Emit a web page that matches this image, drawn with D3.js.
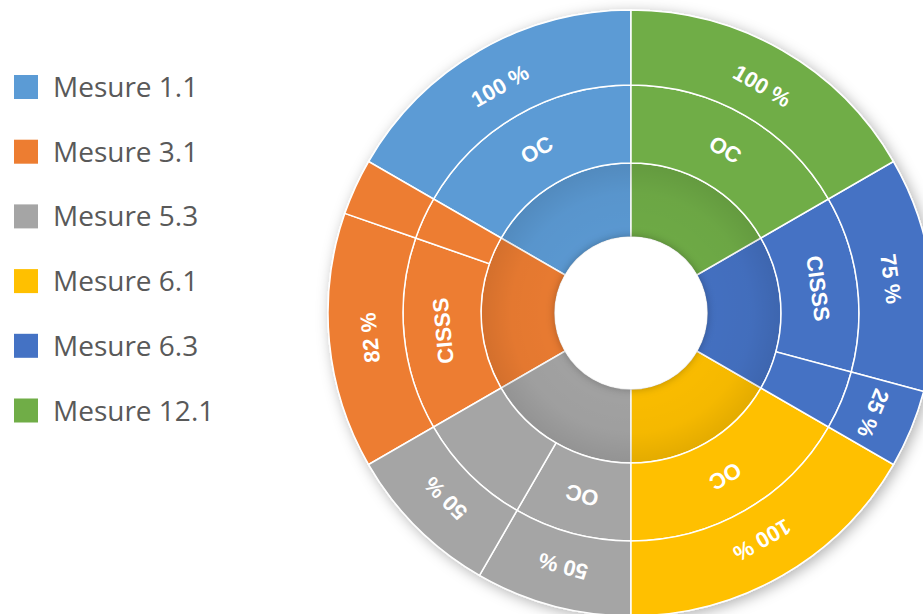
<!DOCTYPE html>
<html>
<head>
<meta charset="utf-8">
<script src="https://d3js.org/d3.v7.min.js"></script>
<style>
  body { margin: 0; background: #ffffff; }
  svg { display: block; }
</style>
</head>
<body>
<div id="chart"></div>
<script>

// legend order
var measures = ["Mesure 1.1", "Mesure 3.1", "Mesure 5.3", "Mesure 6.1", "Mesure 6.3", "Mesure 12.1"];
var colors = ["#5B9BD5", "#ED7D31", "#A5A5A5", "#FFC000", "#4472C4", "#70AD47"];
var actors = ["OC", "CISSS", "OC", "OC", "CISSS", "OC"];
var shares = [[100], [82, 18], [50, 50], [100], [75, 25], [100]];
var shareLabels = [["100 %"], ["82 %", ""], ["50 %", "50 %"], ["100 %"], ["75 %", "25 %"], ["100 %"]];

function init(){

    var w = 923;
    var h = 614;
    var cx = 631;
    var cy = 313;

    var svg = d3.select("#chart")
                .append("svg")
                .attr("width", w)
                .attr("height", h);

    var defs = svg.append("defs");

    var shadow = defs.append("filter")
        .attr("id", "shadow")
        .attr("x", "-20%").attr("y", "-20%")
        .attr("width", "140%").attr("height", "140%");
    shadow.append("feDropShadow")
        .attr("dx", 3).attr("dy", 3)
        .attr("stdDeviation", 7)
        .attr("flood-color", "#000")
        .attr("flood-opacity", 0.3);

    var holeShadow = defs.append("filter")
        .attr("id", "holeShadow")
        .attr("x", "-30%").attr("y", "-30%")
        .attr("width", "160%").attr("height", "160%");
    holeShadow.append("feDropShadow")
        .attr("dx", 0).attr("dy", 0)
        .attr("stdDeviation", 5)
        .attr("flood-color", "#000")
        .attr("flood-opacity", 0.3);

    // darkening on the inner ring
    var grad = defs.append("radialGradient")
        .attr("id", "innerShade")
        .attr("gradientUnits", "userSpaceOnUse")
        .attr("cx", 0).attr("cy", 0).attr("r", 150);
    grad.append("stop").attr("offset", 0.5).attr("stop-color", "#000").attr("stop-opacity", 0.02);
    grad.append("stop").attr("offset", 0.8).attr("stop-color", "#000").attr("stop-opacity", 0.04);
    grad.append("stop").attr("offset", 1).attr("stop-color", "#000").attr("stop-opacity", 0.11);

    // angle scale: 6 equal sectors, clockwise from the top
    var angle = d3.scaleLinear()
        .domain([0, measures.length])
        .range([0, 2 * Math.PI]);

    // ring radii
    var radius = d3.scaleLinear()
        .domain([0, 1, 2, 3])
        .range([76, 150, 228, 303]);

    // measures are laid out counter-clockwise from the top (legend order)
    var inner = [];
    var middle = [];
    var outer = [];
    measures.forEach(function(m, i) {
        var pos = measures.length - 1 - i;
        inner.push({ a0: angle(pos), a1: angle(pos + 1), color: colors[i], label: "" });
        var cum = 0;
        shares[i].forEach(function(s, j) {
            var a0 = angle(pos + cum / 100);
            cum += s;
            var a1 = angle(pos + cum / 100);
            middle.push({ a0: a0, a1: a1, color: colors[i], label: j == 0 ? actors[i] : "" });
            outer.push({ a0: a0, a1: a1, color: colors[i], label: shareLabels[i][j] });
        });
    });

    var rings = [inner, middle, outer];

    var g = svg.append("g")
        .attr("transform", "translate(" + cx + "," + cy + ")");

    var chartG = g.append("g").attr("filter", "url(#shadow)");

    rings.forEach(function(ring, k) {
        var arc = d3.arc()
            .innerRadius(radius(k))
            .outerRadius(radius(k + 1))
            .startAngle(function(d) { return d.a0; })
            .endAngle(function(d) { return d.a1; });

        chartG.append("g")
            .selectAll("path")
            .data(ring)
            .enter()
            .append("path")
            .attr("d", arc)
            .attr("fill", function(d) { return d.color; })
            .attr("stroke", "#ffffff")
            .attr("stroke-width", 1.5);
    });

    // inner ring shade
    g.append("path")
        .attr("d", d3.arc()
            .innerRadius(radius(0))
            .outerRadius(radius(1) - 1)
            .startAngle(0)
            .endAngle(2 * Math.PI)())
        .attr("fill", "url(#innerShade)");

    // hole
    g.append("circle")
        .attr("r", radius(0))
        .attr("fill", "#ffffff")
        .attr("filter", "url(#holeShadow)");

    // labels, tangential
    rings.forEach(function(ring, k) {
        var rMid = (radius(k) + radius(k + 1)) / 2 - (k == 2 ? 3 : 0);
        g.append("g")
            .selectAll("text")
            .data(ring.filter(function(d) { return d.label != ""; }))
            .enter()
            .append("text")
            .text(function(d) { return d.label; })
            .attr("transform", function(d) {
                var a = (d.a0 + d.a1) / 2;
                var x = rMid * Math.sin(a);
                var y = -rMid * Math.cos(a);
                return "translate(" + x + "," + y + ") rotate(" + (a * 180 / Math.PI) + ")";
            })
            .attr("text-anchor", "middle")
            .attr("dy", "0.36em")
            .attr("font-family", "'Liberation Sans', Arial, sans-serif")
            .attr("font-weight", "bold")
            .attr("font-size", "22px")
            .attr("fill", "#ffffff");
    });

    // legend
    var legend = svg.append("g")
        .selectAll("g")
        .data(measures)
        .enter()
        .append("g")
        .attr("transform", function(d, i) {
            return "translate(14," + (87 + i * 64.7) + ")";
        });

    legend.append("rect")
        .attr("x", 0)
        .attr("y", -12)
        .attr("width", 24)
        .attr("height", 24)
        .attr("fill", function(d, i) { return colors[i]; });

    legend.append("text")
        .text(function(d) { return d; })
        .attr("x", 39)
        .attr("y", 10)
        .attr("font-family", "'Open Sans', 'Noto Sans', sans-serif")
        .attr("font-size", "28px")
        .attr("fill", "#595959");
}

window.onload = init;
</script>
</body>
</html>
